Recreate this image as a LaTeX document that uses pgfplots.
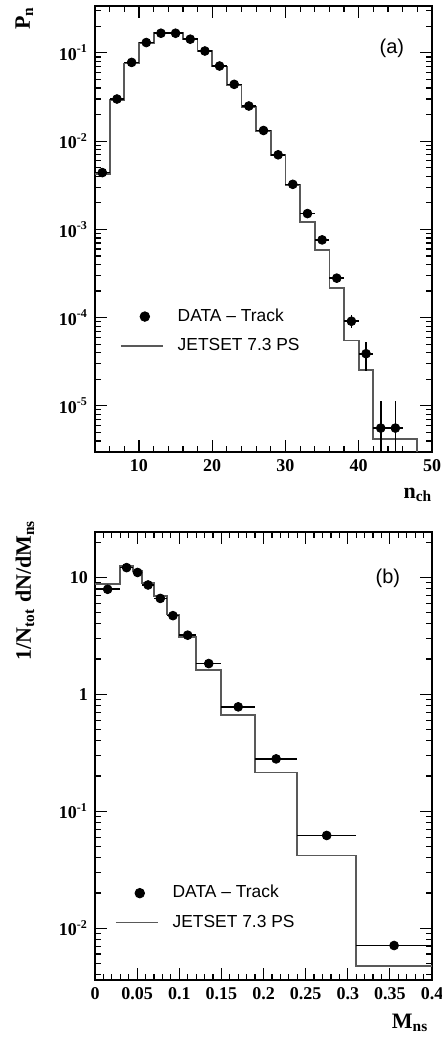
\documentclass[border=0pt]{standalone}
\usepackage{fontspec}
\setmainfont{Liberation Serif}
\setsansfont{Liberation Sans}
\usepackage{pgfplots}
\pgfplotsset{compat=1.18}
\begin{document}
\begin{tikzpicture}
\pgfplotsset{
  every axis/.append style={scale only axis, width=168.5pt,
    axis line style={line width=1pt}, tick style={black,line width=0.6pt},
    major tick length=6pt, minor tick length=3pt, tick align=inside,
    tick label style={font=\fontsize{9}{10}\selectfont\bfseries},
    label style={font=\fontsize{11}{12}\selectfont\bfseries},
    legend style={draw=none,fill=none,font=\sffamily\fontsize{8.7}{10}\selectfont,
      anchor=north west,row sep=3pt,column sep=5pt,
      nodes={inner sep=2pt}},
    legend cell align=left},
  hist/.style={const plot mark left,black!65,line width=0.9pt,mark=none,
    legend image code/.code={\path[draw=none,fill=none] (0pt,-2pt) rectangle (21pt,2pt);
      \draw[black!65,line width=0.9pt] (0pt,0pt) -- (21pt,0pt);}},
  datleg/.style={legend image code/.code={\path[draw=none,fill=none] (0pt,-2pt) rectangle (21pt,2pt);
      \fill[black] (12pt,0pt) circle (2.4pt);}},
  dat/.style={datleg,only marks,mark=*,mark size=2.2pt,black,
    error bars/.cd,x dir=both,x explicit,y dir=both,y explicit,
    error mark=none,error bar style={line width=0.8pt,black}},
}
% ---------- (a) multiplicity ----------
\begin{axis}[at={(47.5pt,292.5pt)},height=223pt,
  xmin=4,xmax=50,ymode=log,ymin=3e-6,ymax=0.34,
  xtick={10,20,30,40,50},xticklabels={10,20,30,40,50},
  minor xtick={4,6,8,12,14,16,18,22,24,26,28,32,34,36,38,42,44,46,48},
  ytick={1e-5,1e-4,1e-3,1e-2,1e-1},
  yticklabels={10\textsuperscript{-5},10\textsuperscript{-4},10\textsuperscript{-3},10\textsuperscript{-2},10\textsuperscript{-1}},
  minor ytick={4e-6,5e-6,6e-6,7e-6,8e-6,9e-6,
    2e-5,3e-5,4e-5,5e-5,6e-5,7e-5,8e-5,9e-5,
    2e-4,3e-4,4e-4,5e-4,6e-4,7e-4,8e-4,9e-4,
    2e-3,3e-3,4e-3,5e-3,6e-3,7e-3,8e-3,9e-3,
    2e-2,3e-2,4e-2,5e-2,6e-2,7e-2,8e-2,9e-2,0.2,0.3},
  ylabel={P\textsubscript{n}},
  ylabel style={at={(axis description cs:-0.21,0.972)},anchor=center},
  xlabel={n\textsubscript{ch}},
  xlabel style={at={(axis description cs:0.958,-0.096)},anchor=center},
  legend style={at={(axis description cs:0.055,0.34)}},
]
\addplot[hist,forget plot] coordinates {
 (4,4.2e-3) (6,0.029) (8,0.076) (10,0.130) (12,0.170) (14,0.170)
 (16,0.143) (18,0.104) (20,0.070) (22,0.043) (24,0.0246) (26,0.0131)
 (28,0.0069) (30,0.0032) (32,1.21e-3) (34,5.8e-4) (36,2.15e-4)
 (38,5.5e-5) (40,2.57e-5) (42,4.2e-6) (48,1e-7)};
\addplot[dat] coordinates {
 (5,4.4e-3) +- (1,0)
 (7,0.030) +- (1,0)
 (9,0.078) +- (1,0)
 (11,0.131) +- (1,0)
 (13,0.167) +- (1,0)
 (15,0.167) +- (1,0)
 (17,0.143) +- (1,0)
 (19,0.105) +- (1,0)
 (21,0.071) +- (1,0)
 (23,0.044) +- (1,0)
 (25,0.025) +- (1,0)
 (27,0.0132) +- (1,0)
 (29,0.0070) +- (1,0)
 (31,0.00324) +- (1,0)
 (33,0.00151) +- (1,0)
 (35,7.6e-4) +- (1,0)
 (37,2.8e-4) +- (1,2e-5)
 (39,9.1e-5) +- (1,1.5e-5)
 (41,3.9e-5) +- (1,1.4e-5)
 (43,5.6e-6) += (1,5.9e-6) -= (1,5.5e-6)
 (45,5.6e-6) += (1,5.9e-6) -= (1,5.5e-6)};
\addlegendentry{DATA \textendash{} Track}
\addlegendimage{hist}
\addlegendentry{JETSET 7.3 PS}
\node[font=\sffamily\fontsize{10}{12}\selectfont] at (rel axis cs:0.881,0.906) {(a)};
\end{axis}
% ---------- (b) ----------
\begin{axis}[at={(47.5pt,28.5pt)},height=224pt,
  xmin=0,xmax=0.4,ymode=log,ymin=3.6e-3,ymax=24.4,
  xtick={0,0.05,0.1,0.15,0.2,0.25,0.3,0.35,0.4},
  xticklabels={0,0.05,0.1,0.15,0.2,0.25,0.3,0.35,0.4},
  minor xtick={0.01,0.02,0.03,0.04,0.06,0.07,0.08,0.09,0.11,0.12,0.13,0.14,
    0.16,0.17,0.18,0.19,0.21,0.22,0.23,0.24,0.26,0.27,0.28,0.29,
    0.31,0.32,0.33,0.34,0.36,0.37,0.38,0.39},
  ytick={1e-2,1e-1,1,10},
  yticklabels={10\textsuperscript{-2},10\textsuperscript{-1},1,10},
  minor ytick={4e-3,5e-3,6e-3,7e-3,8e-3,9e-3,
    2e-2,3e-2,4e-2,5e-2,6e-2,7e-2,8e-2,9e-2,
    0.2,0.3,0.4,0.5,0.6,0.7,0.8,0.9,2,3,4,5,6,7,8,9,20},
  ylabel={1/N\textsubscript{tot} dN/dM\textsubscript{ns}},
  ylabel style={at={(axis description cs:-0.208,0.87)},anchor=center},
  xlabel={M\textsubscript{ns}},
  xlabel style={at={(axis description cs:0.935,-0.095)},anchor=center},
  legend style={at={(axis description cs:0.04,0.23)}},
]
\addplot[hist,forget plot] coordinates {
 (0,8.7) (0.03,12.4) (0.045,11.3) (0.056,8.9) (0.07,6.9) (0.085,4.8)
 (0.1,3.07) (0.12,1.61) (0.15,0.665) (0.19,0.214) (0.24,0.0418)
 (0.31,0.00477) (0.4,0.00477)};
\addplot[dat] coordinates {
 (0.015,7.9) +- (0.015,0)
 (0.0375,12.1) +- (0.0075,0)
 (0.0505,11.0) +- (0.0055,0)
 (0.063,8.6) +- (0.007,0)
 (0.0775,6.6) +- (0.0075,0)
 (0.0925,4.7) +- (0.0075,0)
 (0.11,3.2) +- (0.01,0)
 (0.135,1.83) +- (0.015,0)
 (0.17,0.78) +- (0.02,0)
 (0.215,0.28) +- (0.025,0)
 (0.275,0.062) +- (0.035,0)
 (0.355,0.0071) +- (0.045,0)};
\addlegendentry{DATA \textendash{} Track}
\addlegendimage{hist}
\addlegendentry{JETSET 7.3 PS}
\node[font=\sffamily\fontsize{10}{12}\selectfont] at (rel axis cs:0.869,0.897) {(b)};
\end{axis}
\pgfresetboundingbox
\useasboundingbox (0,0) rectangle (221pt,518.5pt);
\end{tikzpicture}
\end{document}
